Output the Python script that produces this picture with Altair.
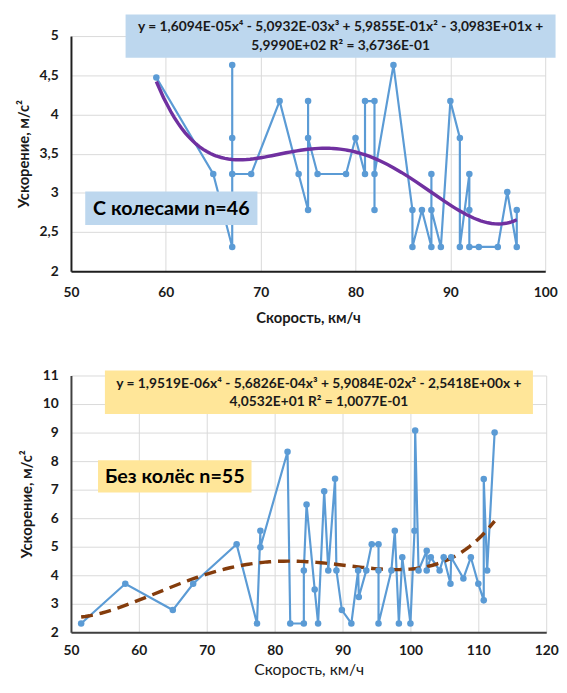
import altair as alt
import pandas as pd

# ---------------- data ----------------
top_speed = [59, 65, 67, 67, 67, 67, 69, 72, 74, 75, 75, 75, 76, 79, 80, 81, 81, 82, 82, 82,
             84, 86, 86, 87, 88, 88, 88, 89, 90, 91, 91, 92, 92, 92, 93, 95, 96, 97, 97]
top_acc = [4.47, 3.24, 2.31, 4.63, 3.70, 3.24, 3.24, 4.17, 3.24, 2.78, 4.17, 3.70, 3.24, 3.24,
           3.70, 3.24, 4.17, 4.17, 2.78, 3.24, 4.63, 2.78, 2.31, 2.78, 2.31, 3.24, 2.78, 2.31,
           4.17, 3.70, 2.31, 3.24, 2.78, 2.31, 2.31, 2.31, 3.01, 2.31, 2.78]

bot_speed = [51.5, 58.0, 65.0, 68.0, 74.4, 77.4, 77.9, 77.9, 81.9, 82.3, 84.3, 84.3, 84.7,
             85.9, 86.4, 87.3, 87.9, 88.9, 89.1, 89.9, 91.3, 92.3, 92.4, 93.5, 94.3, 95.3,
             95.3, 95.3, 97.2, 97.7, 98.3, 98.8, 100.0, 100.6, 100.7, 101.2, 102.4, 102.4,
             103.0, 104.3, 104.9, 105.9, 106.0, 107.8, 108.9, 110.0, 110.8, 110.8, 111.3, 112.4]
bot_acc = [2.31, 3.70, 2.78, 3.70, 5.09, 2.31, 5.56, 4.98, 8.33, 2.31, 2.31, 4.17, 6.48,
           3.50, 2.31, 6.94, 4.17, 7.38, 4.17, 2.78, 2.31, 4.17, 3.24, 4.17, 5.09, 5.09,
           4.17, 2.31, 4.17, 5.56, 2.31, 4.63, 2.31, 5.56, 9.07, 4.17, 4.86, 4.17,
           4.63, 4.17, 4.63, 3.70, 4.63, 3.89, 4.63, 3.70, 3.12, 7.37, 4.17, 9.00]

top_eq = ["y = 1,6094E-05x⁴ - 5,0932E-03x³ + 5,9855E-01x² - 3,0983E+01x +",
          "5,9990E+02  R² = 3,6736E-01"]
bot_eq = ["y = 1,9519E-06x⁴ - 5,6826E-04x³ + 5,9084E-02x² - 2,5418E+00x +",
          "4,0532E+01 R² = 1,0077E-01"]
top_label = "С колесами n=46"
bot_label = "Без колёс n=55"

top_xticks = [50, 60, 70, 80, 90, 100]
top_yticks = [2, 2.5, 3, 3.5, 4, 4.5, 5]
bot_xticks = [50, 60, 70, 80, 90, 100, 110, 120]
bot_yticks = [2, 3, 4, 5, 6, 7, 8, 9, 10, 11]

x_title = "Скорость, км/ч"
y_title = "Ускорение, м/с²"

# ---------------- styles ----------------
FONT = "Lato"
BLUE = "#5B9BD5"
PURPLE = "#7030A0"
BROWN = "#843C0C"
LBLUE = "#BDD7EE"
LGOLD = "#FFE699"
GRID = "#D9D9D9"
LABEL_EXPR = "replace(format(datum.value, '~g'), '.', ',')"

one = pd.DataFrame({"k": [0]})


def panel(speed, acc, xdom, xticks, ydom, yticks, w, h, trend_color, trend_dash,
          xtitle_bold, xtitle_size, xlab_pad, xtitle_pad, eq, eq_box, eq_y,
          lab, lab_box, box_color, domain_color):
    df = pd.DataFrame({"speed": speed, "acc": acc, "idx": list(range(len(speed)))})
    x = alt.X("speed:Q",
              scale=alt.Scale(domain=xdom, nice=False, zero=False),
              axis=alt.Axis(values=xticks, grid=True, gridColor=GRID, ticks=False,
                            domainColor=domain_color, domainWidth=2, labelFlush=False,
                            labelFont=FONT, labelFontSize=14, labelFontWeight="bold",
                            labelColor="#1a1a1a", labelPadding=xlab_pad,
                            labelExpr=LABEL_EXPR,
                            title=x_title, titleFont=FONT, titleFontSize=xtitle_size,
                            titleFontWeight="bold" if xtitle_bold else "normal",
                            titleColor="#1a1a1a", titlePadding=xtitle_pad))
    y = alt.Y("acc:Q",
              scale=alt.Scale(domain=ydom, nice=False, zero=False),
              axis=alt.Axis(values=yticks, grid=True, gridColor=GRID, ticks=False,
                            domainColor=domain_color, domainWidth=2,
                            labelFont=FONT, labelFontSize=14, labelFontWeight="bold",
                            labelColor="#1a1a1a", labelPadding=13,
                            labelExpr=LABEL_EXPR,
                            title=y_title, titleFont=FONT, titleFontSize=15,
                            titleFontWeight="bold", titleColor="#1a1a1a", titlePadding=8))
    base = alt.Chart(df)
    line = base.mark_line(color=BLUE, strokeWidth=2.2).encode(x=x, y=y, order="idx:Q")
    pts = base.mark_circle(color=BLUE, size=44, opacity=1).encode(x=x, y=y)
    trend_kw = dict(color=trend_color, strokeWidth=3.5)
    if trend_dash:
        trend_kw["strokeDash"] = trend_dash
    trend = base.transform_regression(
        "speed", "acc", method="poly", order=4, extent=[min(speed), max(speed)]
    ).mark_line(**trend_kw).encode(x=x, y=y)

    ann = alt.Chart(one)
    eq_rect = ann.mark_rect(color=box_color).encode(
        x=alt.value(eq_box[0]), x2=alt.value(eq_box[1]),
        y=alt.value(eq_box[2]), y2=alt.value(eq_box[3]))
    cx = (eq_box[0] + eq_box[1]) / 2
    eq_t1 = ann.mark_text(font=FONT, fontSize=14, fontWeight="bold", color="#1a1a1a",
                          align="center", baseline="middle").encode(
        x=alt.value(cx), y=alt.value(eq_y[0]), text=alt.value(eq[0]))
    eq_t2 = ann.mark_text(font=FONT, fontSize=14, fontWeight="bold", color="#1a1a1a",
                          align="center", baseline="middle").encode(
        x=alt.value(cx), y=alt.value(eq_y[1]), text=alt.value(eq[1]))
    lab_rect = ann.mark_rect(color=box_color).encode(
        x=alt.value(lab_box[0]), x2=alt.value(lab_box[1]),
        y=alt.value(lab_box[2]), y2=alt.value(lab_box[3]))
    lab_t = ann.mark_text(font=FONT, fontSize=20, fontWeight="bold", color="#000000",
                          align="center", baseline="middle").encode(
        x=alt.value((lab_box[0] + lab_box[1]) / 2),
        y=alt.value((lab_box[2] + lab_box[3]) / 2 + 1),
        text=alt.value(lab))
    return alt.layer(line, trend, pts, eq_rect, eq_t1, eq_t2, lab_rect, lab_t).properties(
        width=w, height=h)


top = panel(top_speed, top_acc, [50, 100], top_xticks, [2, 5], top_yticks, 482, 239,
            PURPLE, None, True, 15, 15, 11, top_eq, (55.5, 492.5, -22, 22), (-9, 10),
            top_label, (14.5, 189.5, 158, 192), LBLUE, "#1f1f1f")
bottom = panel(bot_speed, bot_acc, [50, 120], bot_xticks, [2, 11], bot_yticks, 483, 261,
               BROWN, [12, 7], False, 16, 12, 4, bot_eq, (34.5, 469.5, -5, 39), (9, 27),
               bot_label, (27.5, 183.5, 86, 119), LGOLD, "#404040")

chart = alt.vconcat(top, bottom, spacing=42).properties(
    padding={"left": 7, "top": 0, "right": 0, "bottom": 0}
).configure_view(stroke="transparent")

chart.save("out.html", embed_options={"renderer": "svg", "actions": False})
